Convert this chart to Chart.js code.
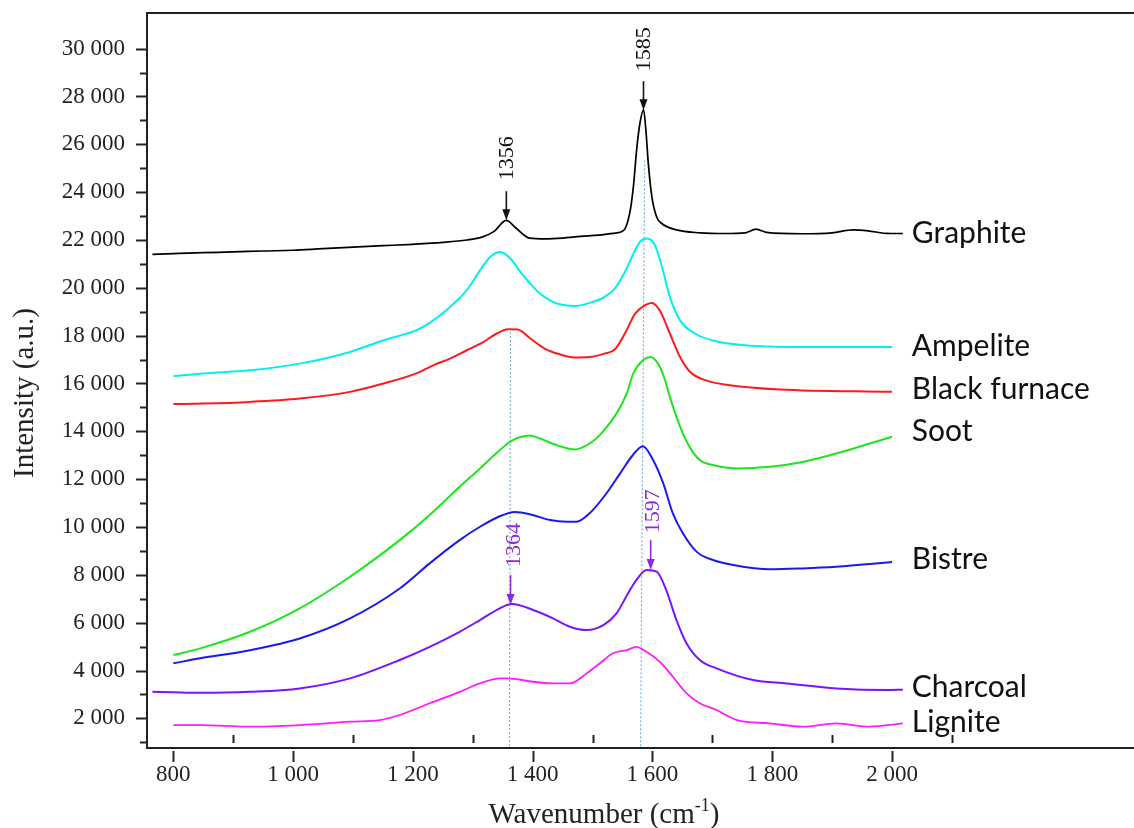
<!DOCTYPE html>
<html><head><meta charset="utf-8">
<script src="https://cdn.jsdelivr.net/npm/chart.js@4.4.1/dist/chart.umd.min.js"></script>
<style>html,body{margin:0;padding:0;background:#fff}canvas{display:block}</style>
</head><body>
<canvas id="c" width="1134" height="828"></canvas>
<script>
// ---- Data (wavenumber cm-1, intensity a.u.) ----
const graphiteWn = [765,800,850,900,950,1000,1050,1100,1150,1200,1250,1290,1315,1335,1356,1372,1395,1420,1450,1480,1510,1535,1552,1562,1568,1574,1579,1585,1589,1593,1599,1607,1615,1640,1680,1720,1755,1773,1790,1850,1900,1935,1960,1990,2018];
const graphiteI  = [21400,21430,21470,21500,21540,21570,21640,21700,21760,21820,21900,22000,22120,22350,22820,22500,22080,22050,22080,22150,22200,22280,22400,23120,24200,25880,26870,27450,26590,25200,23800,22960,22700,22420,22300,22270,22300,22450,22320,22260,22300,22420,22380,22280,22270];

const ampeliteWn = [800,850,928,1011,1095,1151,1206,1234,1262,1290,1312,1329,1345,1362,1379,1395,1412,1429,1445,1470,1495,1520,1537,1554,1571,1579,1591,1604,1616,1629,1646,1671,1704,1754,1846,2000];
const ampeliteI  = [16300,16420,16550,16830,17320,17810,18230,18640,19200,19900,20730,21290,21500,21250,20680,20200,19760,19480,19310,19240,19370,19620,19970,20660,21570,21920,22060,21780,20870,19620,18640,18090,17780,17600,17530,17530];

const furnaceWn = [800,850,928,1011,1095,1151,1206,1234,1262,1290,1318,1340,1359,1375,1395,1420,1445,1470,1495,1520,1537,1554,1571,1587,1599,1612,1629,1646,1663,1688,1729,1813,2000];
const furnaceI  = [15140,15160,15230,15370,15650,16000,16420,16760,17040,17390,17740,18090,18270,18260,17900,17460,17220,17090,17110,17250,17420,18090,18920,19270,19370,19060,18090,17110,16480,16140,15930,15750,15650];

const sootWn = [800,845,928,1011,1095,1178,1228,1278,1312,1345,1362,1379,1395,1412,1445,1470,1495,1517,1540,1557,1568,1584,1596,1609,1621,1629,1646,1662,1679,1701,1741,1796,1851,1907,1963,2000];
const sootI  = [4645,4925,5620,6600,7920,9450,10500,11680,12450,13210,13560,13760,13830,13700,13380,13240,13490,13980,14750,15580,16420,16970,17110,16840,16140,15440,14200,13350,12800,12590,12450,12520,12720,13070,13490,13770];

const bistreWn = [800,845,928,1011,1095,1178,1228,1278,1312,1345,1370,1400,1429,1457,1473,1495,1523,1546,1567,1584,1601,1618,1634,1651,1674,1701,1735,1796,1851,1907,1963,2000];
const bistreI  = [4300,4510,4850,5340,6180,7430,8480,9450,10010,10450,10630,10500,10290,10220,10220,10570,11400,12240,13000,13380,12800,11820,10570,9730,8960,8620,8410,8230,8270,8340,8450,8540];

const charcoalWn = [765,800,845,928,1011,1095,1178,1228,1278,1312,1345,1365,1401,1434,1462,1490,1518,1540,1559,1573,1590,1607,1623,1640,1657,1679,1707,1768,1824,1907,1991,2018];
const charcoalI  = [3110,3090,3070,3110,3250,3670,4440,4990,5620,6110,6600,6780,6530,6180,5830,5690,5900,6390,7220,7780,8200,8130,7360,6110,5130,4440,4090,3600,3460,3250,3180,3200];

const ligniteWn = [800,845,928,1011,1095,1145,1178,1228,1278,1312,1345,1357,1401,1434,1462,1490,1512,1534,1557,1573,1590,1612,1634,1657,1679,1707,1741,1796,1851,1907,1963,2018];
const ligniteI  = [1720,1720,1650,1720,1860,1930,2140,2630,3110,3460,3670,3670,3530,3460,3460,3880,4300,4720,4850,4990,4780,4370,3740,3040,2630,2350,1930,1790,1650,1790,1650,1790];

const seriesNames = ['Graphite','Ampelite','Black furnace','Soot','Bistre','Charcoal','Lignite'];

// Peak annotations (wavenumber labels)
const peakLabels = ['1356','1585','1364','1597'];
const peakWn     = [1356,1585,1363,1597];

// tick labels
const xTickValues = [800,1000,1200,1400,1600,1800,2000];
const yTickValues = [2000,4000,6000,8000,10000,12000,14000,16000,18000,20000,22000,24000,26000,28000,30000];

// ---- styles & layout (kept apart from data) ----
const seriesStyle = [
  {color:'#000000', width:1.7},
  {color:'#00f0f0', width:2},
  {color:'#ff1a1a', width:2},
  {color:'#1ee61e', width:2},
  {color:'#1a1af0', width:2},
  {color:'#7a14ff', width:2},
  {color:'#ff1aff', width:1.8}
];
const seriesLabelPos = [21870,17140,15340,13590,8240,2890,1430]; // baseline y (data units)
const seriesLabelX = 2033;
const peakStyle = [
  {color:'#111111', arrowFrom:24040, arrowTo:22830, textY:25415, textX:1356},
  {color:'#111111', arrowFrom:28640, arrowTo:27420, textY:29970, textX:1585},
  {color:'#8a2be2', arrowFrom:7990, arrowTo:6740, textY:9250, textX:1367},
  {color:'#8a2be2', arrowFrom:9450, arrowTo:8200, textY:10660, textX:1599}
];
const guides = [
  {x1:1363, y1:18150, x2:1361},
  {x1:1587, y1:25330, x2:1580}
];

const fmt = v => String(v).replace(/\B(?=(\d{3})+(?!\d))/g, ' ');
const toPts = (xs, ys) => xs.map((x, i) => ({x, y: ys[i]}));
const allWn = [graphiteWn, ampeliteWn, furnaceWn, sootWn, bistreWn, charcoalWn, ligniteWn];
const allI  = [graphiteI, ampeliteI, furnaceI, sootI, bistreI, charcoalI, ligniteI];

const AX = '#222222';
const serif = '"Liberation Serif", "Times New Roman", serif';

const deco = {
  id: 'deco',
  beforeDatasetsDraw(chart) {
    const {ctx, scales: {x, y}, chartArea: ca} = chart;
    ctx.save();
    ctx.strokeStyle = '#6fa3dc';
    ctx.lineWidth = 1;
    ctx.setLineDash([2, 2]);
    guides.forEach(g => {
      ctx.beginPath();
      ctx.moveTo(x.getPixelForValue(g.x1), y.getPixelForValue(g.y1));
      ctx.lineTo(x.getPixelForValue(g.x2), ca.bottom);
      ctx.stroke();
    });
    ctx.restore();
  },
  afterDraw(chart) {
    const {ctx, scales: {x, y}, chartArea: ca} = chart;
    ctx.save();
    // top frame line
    ctx.strokeStyle = AX; ctx.lineWidth = 2;
    ctx.beginPath(); ctx.moveTo(ca.left - 1, ca.top); ctx.lineTo(chart.width, ca.top); ctx.stroke();
    // y ticks (outward)
    ctx.lineWidth = 2;
    for (let v = 1000; v <= 30000; v += 1000) {
      const py = Math.round(y.getPixelForValue(v)) + 0.5;
      const major = v % 2000 === 0;
      ctx.beginPath();
      ctx.moveTo(ca.left - (major ? 11 : 7), py);
      ctx.lineTo(ca.left, py);
      ctx.stroke();
    }
    // x ticks: majors below (detached), minors inside
    for (let v = 800; v <= 2100; v += 100) {
      const px = Math.round(x.getPixelForValue(v)) + 0.5;
      const major = v % 200 === 0;
      if (major && v > 2000) continue;
      ctx.beginPath();
      if (major) { ctx.moveTo(px, ca.bottom + 3); ctx.lineTo(px, ca.bottom + 14); }
      else { ctx.moveTo(px, ca.bottom - 13); ctx.lineTo(px, ca.bottom - 5); }
      ctx.stroke();
    }
    // peak arrows + rotated labels
    peakLabels.forEach((t, i) => {
      const s = peakStyle[i];
      const px = x.getPixelForValue(peakWn[i]);
      const y1 = y.getPixelForValue(s.arrowFrom), y2 = y.getPixelForValue(s.arrowTo);
      ctx.strokeStyle = s.color; ctx.fillStyle = s.color; ctx.lineWidth = 1.6;
      ctx.beginPath(); ctx.moveTo(px, y1); ctx.lineTo(px, y2 - 6); ctx.stroke();
      ctx.beginPath(); ctx.moveTo(px, y2); ctx.lineTo(px - 4, y2 - 11); ctx.lineTo(px + 4, y2 - 11); ctx.closePath(); ctx.fill();
      ctx.save();
      ctx.translate(x.getPixelForValue(s.textX), y.getPixelForValue(s.textY));
      ctx.rotate(-Math.PI / 2);
      ctx.font = '22px ' + serif;
      ctx.textAlign = 'center'; ctx.textBaseline = 'middle';
      ctx.fillText(t, 0, 1);
      ctx.restore();
    });
    // series labels
    ctx.fillStyle = '#111';
    ctx.font = '30px Lato, "Open Sans", sans-serif';
    ctx.textAlign = 'left'; ctx.textBaseline = 'alphabetic';
    seriesNames.forEach((n, i) => {
      ctx.fillText(n, x.getPixelForValue(seriesLabelX), y.getPixelForValue(seriesLabelPos[i]));
    });
    // axis titles
    ctx.fillStyle = AX;
    ctx.save();
    ctx.translate(25, 393);
    ctx.rotate(-Math.PI / 2);
    ctx.font = '29px ' + serif;
    ctx.textAlign = 'center'; ctx.textBaseline = 'middle';
    ctx.fillText('Intensity (a.u.)', 0, 0);
    ctx.restore();
    ctx.font = '29px ' + serif;
    ctx.textAlign = 'left'; ctx.textBaseline = 'alphabetic';
    const p1 = 'Wavenumber (cm', p2 = '-1', p3 = ')';
    const w1 = ctx.measureText(p1).width;
    ctx.font = '18px ' + serif;
    const w2 = ctx.measureText(p2).width;
    ctx.font = '29px ' + serif;
    const w3 = ctx.measureText(p3).width;
    let sx = 604 - (w1 + w2 + w3) / 2;
    const by = 823;
    ctx.fillText(p1, sx, by);
    ctx.font = '18px ' + serif;
    ctx.fillText(p2, sx + w1, by - 12);
    ctx.font = '29px ' + serif;
    ctx.fillText(p3, sx + w1 + w2, by);
    ctx.restore();
  }
};

new Chart(document.getElementById('c').getContext('2d'), {
  type: 'line',
  data: {
    datasets: seriesNames.map((n, i) => ({
      label: n,
      data: toPts(allWn[i], allI[i]),
      borderColor: seriesStyle[i].color,
      borderWidth: seriesStyle[i].width,
      pointRadius: 0,
      fill: false,
      cubicInterpolationMode: 'monotone'
    }))
  },
  options: {
    responsive: false,
    animation: false,
    devicePixelRatio: 1,
    layout: {padding: {top: 13, right: 0, left: 0, bottom: 0}},
    plugins: {legend: {display: false}, tooltip: {enabled: false}},
    scales: {
      x: {
        type: 'linear', min: 756, max: 2404,
        grid: {display: false, drawTicks: false},
        border: {display: true, color: AX, width: 2},
        afterBuildTicks: s => { s.ticks = xTickValues.map(v => ({value: v})); },
        ticks: {autoSkip: false, maxRotation: 0, padding: 13, color: AX,
          font: {family: serif, size: 23}, callback: v => fmt(v)},
        afterFit: s => { s.height = 80; s.paddingLeft = 0; s.paddingRight = 0; }
      },
      y: {
        type: 'linear', min: 760, max: 31490,
        grid: {display: false, drawTicks: false},
        border: {display: true, color: AX, width: 2},
        afterBuildTicks: s => { s.ticks = yTickValues.map(v => ({value: v})); },
        ticks: {autoSkip: false, padding: 22, color: AX,
          font: {family: serif, size: 23}, callback: v => fmt(v)},
        afterFit: s => { s.width = 147; s.paddingTop = 0; s.paddingBottom = 0; }
      }
    }
  },
  plugins: [deco]
});
</script>
</body></html>
